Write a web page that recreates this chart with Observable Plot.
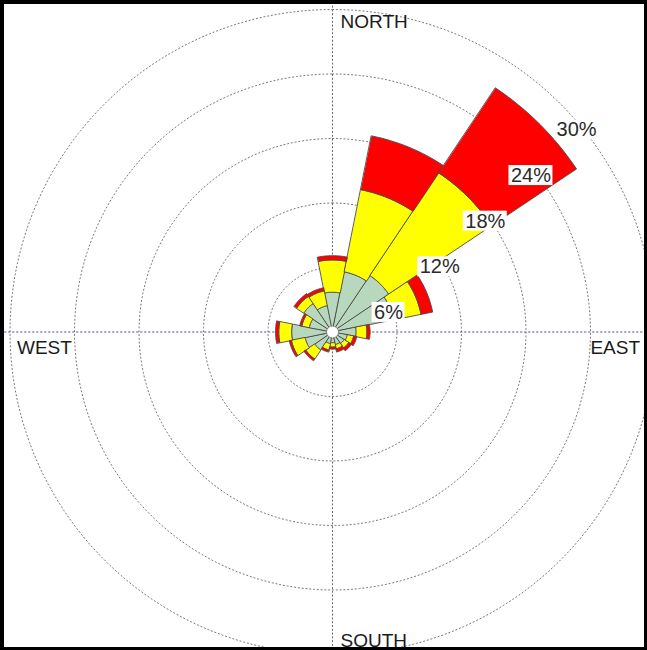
<!DOCTYPE html>
<html><head><meta charset="utf-8">
<script src="https://cdn.jsdelivr.net/npm/d3@7"></script>
<script src="https://cdn.jsdelivr.net/npm/@observablehq/plot@0.6"></script>
<style>
html,body{margin:0;padding:0;background:#fff;}
#chart svg{display:block;}
</style></head><body><div id="chart"></div>
<script>
// ---- data (percent frequency per direction, per speed class) ----
const directions = ["N","NNE","NE","ENE","E","ESE","SE","SSE","S","SSW","SW","WSW","W","WNW","NW","NNW"];
const lowClass  = [3.7, 5.7, 6.3, 5.8, 2.2, 1.4, 1.3, 1.2, 1.0, 1.1, 2.0, 2.6, 3.8, 2.2, 3.2, 2.5];
const midClass  = [3.0, 7.8, 11.5, 2.6, 1.0, 0.6, 0.5, 0.4, 0.4, 0.6, 1.0, 1.3, 1.2, 0.7, 0.8, 1.4];
const highClass = [0.4, 5.1, 9.5, 1.1, 0.3, 0.3, 0.3, 0.3, 0.2, 0.2, 0.2, 0.2, 0.3, 0.2, 0.3, 0.3];
const ringValues = [6, 12, 18, 24, 30];
const ringLabels = ["6%", "12%", "18%", "24%", "30%"];
const compassLabels = ["NORTH", "EAST", "SOUTH", "WEST"];
const classColors = ["#b8d8be", "#ffff00", "#ff0000"];

// ---- layout ----
const W = 647, H = 650, cx = 332, cy = 331.5, k = 10.75; // px per percent
const xDomain = [-cx / k, (W - cx) / k];
const yDomain = [-(H - cy) / k, cy / k];
const rad = d => d * Math.PI / 180;
const step = 360 / directions.length;
const rMax = ringValues[ringValues.length - 1];

// sector polygons
const classes = [lowClass, midClass, highClass];
const sectors = [[], [], []];
directions.forEach((dir, i) => {
  let base = 0;
  classes.forEach((arr, c) => {
    const r0 = base, r1 = base + arr[i];
    base = r1;
    const a0 = i * step - step / 2, a1 = i * step + step / 2, n = 16;
    const key = dir + "-" + c;
    for (let j = 0; j <= n; j++) {
      const a = rad(a0 + (a1 - a0) * j / n);
      sectors[c].push({key, x: r1 * Math.sin(a), y: r1 * Math.cos(a)});
    }
    for (let j = n; j >= 0; j--) {
      const a = rad(a0 + (a1 - a0) * j / n);
      sectors[c].push({key, x: r0 * Math.sin(a), y: r0 * Math.cos(a)});
    }
  });
});

// grid rings
const ringPts = [];
ringValues.forEach(r => {
  for (let j = 0; j <= 180; j++) {
    const a = rad(j * 2);
    ringPts.push({r, x: r * Math.sin(a), y: r * Math.cos(a)});
  }
});

// ring labels along 45 degrees
const labAngle = rad(45);
const ringLab = ringValues.map((r, i) => ({
  text: ringLabels[i],
  x: r * Math.sin(labAngle),
  y: r * Math.cos(labAngle),
  w: (ringLabels[i].length - 1) * 11.1 + 17.8
}));
const boxes = ringLab.map(d => ({
  x1: d.x - 6 / k, x2: d.x + (d.w - 2) / k,
  y1: d.y - 36 / k, y2: d.y - 16 / k
}));

const font = "'Liberation Sans', Arial, Helvetica, sans-serif";
const compassStyle = {x: "x", y: "y", text: "text", fontSize: 19, fill: "#1a1a1a", fontFamily: font, letterSpacing: "-0.5px"};

const chart = Plot.plot({
  width: W, height: H,
  marginTop: 0, marginRight: 0, marginBottom: 0, marginLeft: 0,
  x: {domain: xDomain, axis: null},
  y: {domain: yDomain, axis: null},
  style: {fontFamily: font, background: "#fff"},
  marks: [
    Plot.line(ringPts, {x: "x", y: "y", z: "r", stroke: "#7a7a7a", strokeWidth: 1, strokeDasharray: "1.2,2.6"}),
    Plot.line([{x: 0, y: -rMax - 2}, {x: 0, y: rMax + 2}], {x: "x", y: "y", stroke: "#666", strokeWidth: 1, strokeDasharray: "1.2,2.6"}),
    Plot.line([{x: xDomain[0], y: 0}, {x: xDomain[1], y: 0}], {x: "x", y: "y", stroke: "#5a5ab0", strokeWidth: 1, strokeDasharray: "1.5,2.5"}),
    ...sectors.map((pts, c) => Plot.line(pts, {x: "x", y: "y", z: "key", fill: classColors[c], stroke: "#4a4a4a", strokeWidth: 0.9, curve: "linear-closed"})),
    Plot.dot([{x: 0, y: 0}], {x: "x", y: "y", r: 6, fill: "#fff", stroke: "#777", strokeWidth: 0.8}),
    Plot.rect(boxes, {x1: "x1", x2: "x2", y1: "y1", y2: "y2", fill: "#fff"}),
    Plot.text(ringLab, {x: "x", y: "y", text: "text", textAnchor: "start", dx: -4, dy: 26, fontSize: 20, fill: "#2a2a2a", fontFamily: font}),
    Plot.text([{text: compassLabels[0], x: 0, y: rMax}], {...compassStyle, textAnchor: "start", dx: 8, dy: 12}),
    Plot.text([{text: compassLabels[1], x: rMax, y: 0}], {...compassStyle, textAnchor: "end", dx: -15, dy: 16}),
    Plot.text([{text: compassLabels[2], x: 0, y: -rMax}], {...compassStyle, textAnchor: "start", dx: 8, dy: -14}),
    Plot.text([{text: compassLabels[3], x: -rMax, y: 0}], {...compassStyle, textAnchor: "start", dx: 7, dy: 16}),
    Plot.frame({stroke: "#000", strokeWidth: 7})
  ]
});
document.getElementById("chart").appendChild(chart);
</script></body></html>
